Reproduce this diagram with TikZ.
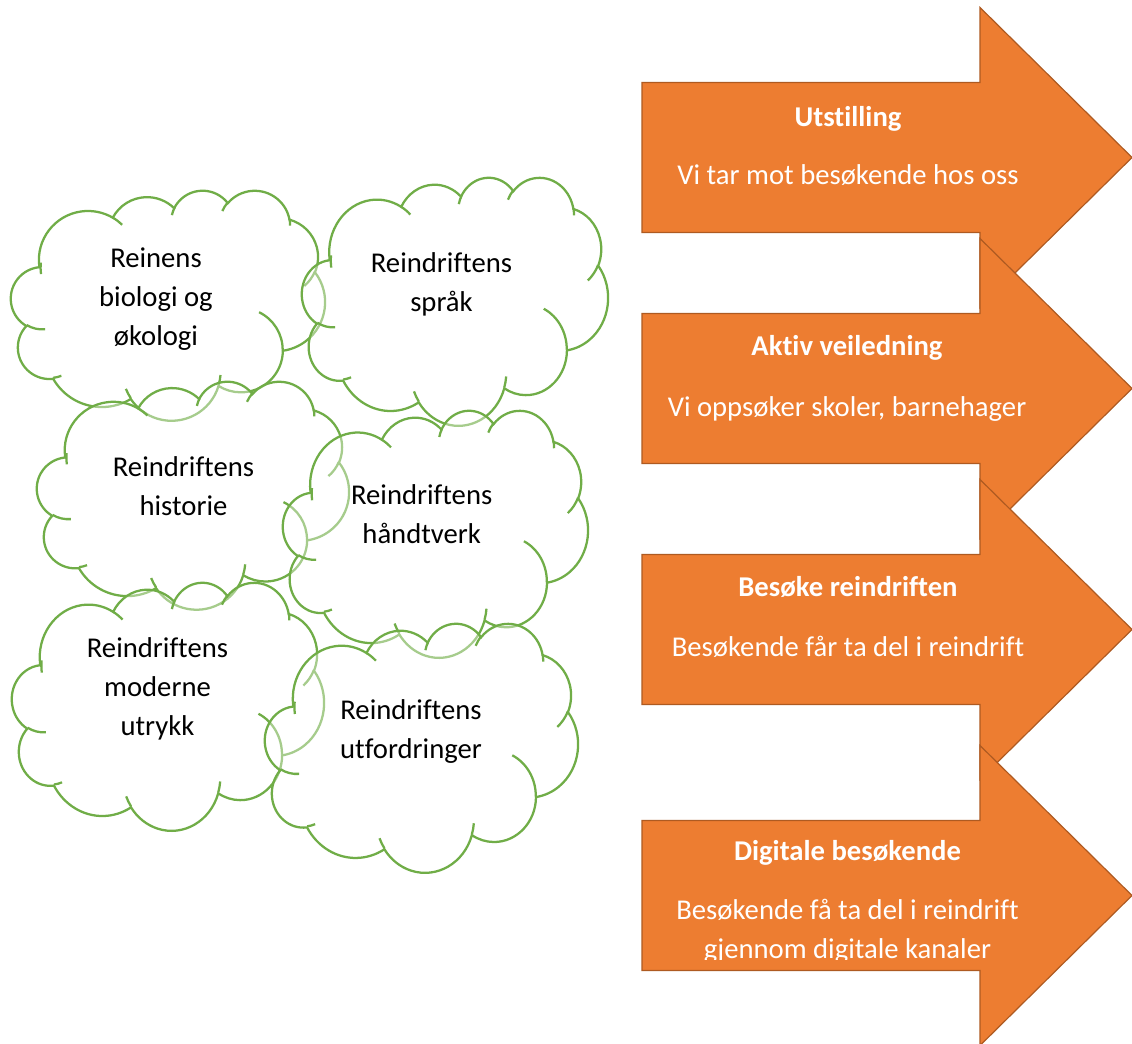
\documentclass[tikz,border=0pt]{standalone}
\usepackage{fontspec}
\setmainfont{Carlito}[Ligatures=NoCommon]
\usepackage{tikz}
\definecolor{cloudgreen}{HTML}{70AD47}
\definecolor{arroworange}{HTML}{ED7D31}
\definecolor{arrowedge}{HTML}{AE5A21}

% office-like cloud, drawn in a 4320 x 4320 box
\tikzset{
  pics/cloud/.style={code={
    \filldraw[cloudline, fill=white, fill opacity=0.38]
      (390,1437)
      arc[start angle=-187.75, delta angle=128.12, x radius=675.3, y radius=919]
      arc[start angle=-152.04, delta angle=106.58, x radius=533.3, y radius=726.7]
      arc[start angle=-153.5, delta angle=116.17, x radius=436.5, y radius=594.5]
      arc[start angle=-139.71, delta angle=129.5, x radius=485.7, y radius=659.5]
      arc[start angle=-74.77, delta angle=97.98, x radius=533.3, y radius=727.3]
      arc[start angle=-37.52, delta angle=119.38, x radius=677.5, y radius=922]
      arc[start angle=0.46, delta angle=121.52, x radius=578.5, y radius=786.7]
      arc[start angle=16.85, delta angle=129.37, x radius=675.2, y radius=921.5]
      arc[start angle=58.99, delta angle=91.19, x radius=772, y radius=1054.3]
      arc[start angle=-276.7, delta angle=139.78, x radius=436, y radius=591.8]
      arc[start angle=-239.64, delta angle=143.75, x radius=434.5, y radius=594.5]
      -- cycle;
    \draw[cloudline]
      (469.3,2617.7) arc[start angle=85.55, delta angle=34.81, x radius=434.5, y radius=594.5]
      (692.8,3489.9) arc[start angle=68.24, delta angle=15.07, x radius=436, y radius=591.8]
      (1647.8,3909) arc[start angle=146.22, delta angle=12.26, x radius=675.2, y radius=921.5]
      (2882.7,3475.1) arc[start angle=4.74, delta angle=12.11, x radius=675.2, y radius=921.5]
      (3412.9,2295.4) arc[start angle=-64.03, delta angle=64.49, x radius=578.5, y radius=786.7]
      (4179.8,1535.4) arc[start angle=23.21, delta angle=26.43, x radius=533.3, y radius=727.3]
      (3832.4,542.6) arc[start angle=-10.21, delta angle=11.03, x radius=485.7, y radius=659.5]
      (2907.8,395.2) arc[start angle=-156.27, delta angle=16.56, x radius=485.7, y radius=659.5]
      (2214.1,472) arc[start angle=-167.73, delta angle=14.23, x radius=436.5, y radius=594.5]
      (1400,519.2) arc[start angle=-59.63, delta angle=13.89, x radius=675.3, y radius=919]
      (412.7,1578.9) arc[start angle=-187.75, delta angle=13.32, x radius=675.3, y radius=919];
  }}
}

\begin{document}
\begin{tikzpicture}[
  x=0.75pt, y=-0.75pt,
  cloudline/.style={draw=cloudgreen, line width=1.7pt},
  cloudtext/.style={align=center, anchor=base, inner sep=0pt,
                    font=\fontsize{21.5}{29.25}\selectfont},
  arrowbody/.style={fill=arroworange, draw=arrowedge, line width=0.9pt},
  arrowtitle/.style={text=white, anchor=base, inner sep=0pt,
                     font=\fontsize{21.5}{29.25}\selectfont\bfseries},
  arrowtext/.style={text=white, anchor=base, align=center, inner sep=0pt,
                    font=\fontsize{21.5}{29.25}\selectfont}]
\path[fill=white] (0,0) rectangle (1132,1044);
\useasboundingbox (0,0) rectangle (1132,1044);

% clouds, later ones lie over earlier ones
\pic[shift={(11,190)}, xscale=314/4320, yscale=230/4320] {cloud};
\pic[shift={(302,177)}, xscale=306/4320, yscale=248/4320] {cloud};
\pic[shift={(37,381)}, xscale=312/4320, yscale=228/4320] {cloud};
\pic[shift={(283,410)}, xscale=305/4320, yscale=247/4320] {cloud};
\pic[shift={(12,582)}, xscale=312/4320, yscale=248/4320] {cloud};
\pic[shift={(265,623)}, xscale=313/4320, yscale=249/4320] {cloud};

% node base = baseline of the last line
\node[cloudtext] (bio)  at (156,345.3)   {Reinens\\biologi og\\økologi};
\node[cloudtext] (sprak) at (441.5,312)  {Reindriftens\\språk};
\node[cloudtext] (hist) at (183.5,515.7) {Reindriftens\\historie};
\node[cloudtext] (hand) at (421.7,544)   {Reindriftens\\håndtverk};
\node[cloudtext] (mod)  at (157.5,735.3) {Reindriftens\\moderne\\utrykk};
\node[cloudtext] (utf)  at (411,758.3)   {Reindriftens\\utfordringer};

% arrows
\foreach \c in {157.5,388.5,629.5,895.5}
  \draw[arrowbody] (642,\c-75) -- (980,\c-75) -- (980,\c-150) -- (1132,\c)
    -- (980,\c+150) -- (980,\c+75) -- (642,\c+75) -- cycle;

\node[arrowtitle] (utst) at (848,127)   {Utstilling};
\node[arrowtext] (utsttxt) at (848,185) {Vi tar mot besøkende hos oss};
\node[arrowtitle] (aktiv) at (847,356)  {Aktiv veiledning};
\node[arrowtext] (aktivtxt) at (847,417) {Vi oppsøker skoler, barnehager};
\node[arrowtitle] (besok) at (848,596.7) {Besøke reindriften};
\node[arrowtext] (besoktxt) at (848,656.7) {Besøkende får ta del i reindrift};
\node[arrowtitle] (digi) at (847.5,860)  {Digitale besøkende};
\begin{scope}
  \clip (600,800) rectangle (1132,959.5);
  \node[arrowtext] (digitxt) at (847.5,958.3)
    {Besøkende få ta del i reindrift\\gjennom digitale kanaler};
\end{scope}
\end{tikzpicture}
\end{document}
